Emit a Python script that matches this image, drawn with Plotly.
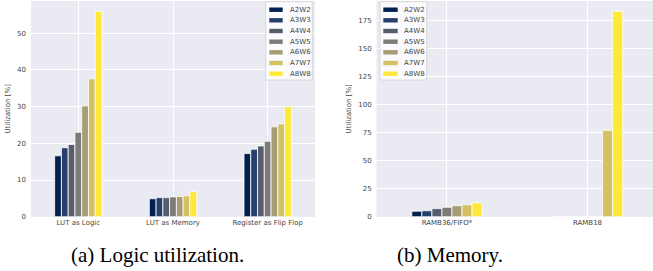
import plotly.graph_objects as go

# ---------------- data ----------------
series_names = ["A2W2", "A3W3", "A4W4", "A5W5", "A6W6", "A7W7", "A8W8"]
series_colors = ["#00204d", "#263f6c", "#575c6d", "#7c7b78", "#a69d75", "#d3c164", "#fee838"]

logic_categories = ["LUT as Logic", "LUT as Memory", "Register as Flip Flop"]
logic_values = [
    [16.6, 4.9, 17.2],   # A2W2
    [18.8, 5.2, 18.4],   # A3W3
    [19.7, 5.2, 19.3],   # A4W4
    [23.0, 5.4, 20.6],   # A5W5
    [30.2, 5.5, 24.5],   # A6W6
    [37.6, 5.7, 25.3],   # A7W7
    [56.0, 6.8, 30.0],   # A8W8
]

memory_categories = ["RAMB36/FIFO*", "RAMB18"]
memory_values = [
    [4.9, 0.0],
    [5.3, 0.0],
    [7.2, 0.0],
    [8.4, 0.0],
    [9.8, 0.0],
    [10.7, 77.0],
    [12.3, 183.0],
]

logic_yticks = [0, 10, 20, 30, 40, 50]
memory_yticks = [0, 25, 50, 75, 100, 125, 150, 175]

y_title = "Utilization [%]"
captions = ["(a) Logic utilization.", "(b) Memory."]

# ---------------- figure ----------------
W, H = 653, 271
fig = go.Figure()

for i, name in enumerate(series_names):
    fig.add_trace(go.Bar(
        x=logic_categories, y=logic_values[i], name=name,
        marker=dict(color=series_colors[i], line=dict(color="white", width=0.8)),
        xaxis="x", yaxis="y", showlegend=False))
for i, name in enumerate(series_names):
    fig.add_trace(go.Bar(
        x=memory_categories, y=memory_values[i], name=name,
        marker=dict(color=series_colors[i], line=dict(color="white", width=0.8)),
        xaxis="x2", yaxis="y2", showlegend=False))

tick_font = dict(family="DejaVu Sans", size=7, color="#444444")
bg = "#EAEAF2"
ydom = [1 - 216.7 / H, 1 - 1 / H]

axis_common = dict(showgrid=True, gridcolor="white", gridwidth=1, zeroline=False,
                   showline=False, ticks="", tickfont=tick_font, automargin=False)

fig.update_layout(
    width=W, height=H, autosize=False,
    margin=dict(l=0, r=0, t=0, b=0, pad=0),
    paper_bgcolor="white",
    plot_bgcolor=bg,
    barmode="group", bargap=0.5, bargroupgap=0,
    showlegend=False,
    xaxis=dict(domain=[31 / W, 315 / W], range=[-0.5, 2.5], anchor="y", **axis_common),
    yaxis=dict(domain=ydom, range=[0, 58.8], anchor="x", tickvals=logic_yticks,
               ticklabelstandoff=4,
               title=dict(text=y_title, font=tick_font, standoff=5), **axis_common),
    xaxis2=dict(domain=[376.7 / W, 1.0], range=[-0.5, 1.466], anchor="y2", **axis_common),
    yaxis2=dict(domain=ydom, range=[0, 192.2], anchor="x2", tickvals=memory_yticks,
                ticklabelstandoff=4,
                title=dict(text=y_title, font=tick_font, standoff=5), **axis_common),
)

fig.add_shape(type="rect", xref="paper", yref="paper", x0=376.7 / W, x1=1.0,
              y0=ydom[0], y1=ydom[1], fillcolor=bg, line_width=0, layer="below")
fig.add_shape(type="rect", xref="paper", yref="paper", x0=31 / W, x1=315 / W,
              y0=ydom[0], y1=ydom[1], fillcolor=bg, line_width=0, layer="below")

# manual legends (matplotlib-like compact)
def add_legend(box_x0, box_x1, patch_x0, patch_x1, text_x):
    fig.add_shape(type="rect", xref="paper", yref="paper",
                  x0=box_x0 / W, x1=box_x1 / W, y0=1 - 80 / H, y1=1 - 1.7 / H,
                  fillcolor="rgba(255,255,255,0.8)", line=dict(color="#d0d0d0", width=0.8))
    ys = [9.7, 20.3, 31.0, 41.7, 52.3, 63.0, 73.7]
    for name, col, yc in zip(series_names, series_colors, ys):
        fig.add_shape(type="rect", xref="paper", yref="paper",
                      x0=patch_x0 / W, x1=patch_x1 / W,
                      y0=1 - (yc + 2.2) / H, y1=1 - (yc - 2.2) / H,
                      fillcolor=col, line_width=0)
        fig.add_annotation(xref="paper", yref="paper", x=text_x / W, y=1 - yc / H,
                           text=name, showarrow=False, xanchor="left", yanchor="middle",
                           font=tick_font)

add_legend(265.7, 312.3, 269.3, 282.7, 287.5)
add_legend(380.0, 426.7, 383.3, 397.7, 402.0)

cap_font = dict(family="Liberation Serif", size=21, color="black")
fig.add_annotation(xref="paper", yref="paper", x=157 / W, y=1 - 255 / H, text=captions[0],
                   showarrow=False, xanchor="center", yanchor="middle", font=cap_font)
fig.add_annotation(xref="paper", yref="paper", x=450 / W, y=1 - 255 / H, text=captions[1],
                   showarrow=False, xanchor="center", yanchor="middle", font=cap_font)

fig.write_html("out.html", config={"displayModeBar": False},
               post_script="document.body.style.margin='0';document.body.style.overflow='hidden';")
